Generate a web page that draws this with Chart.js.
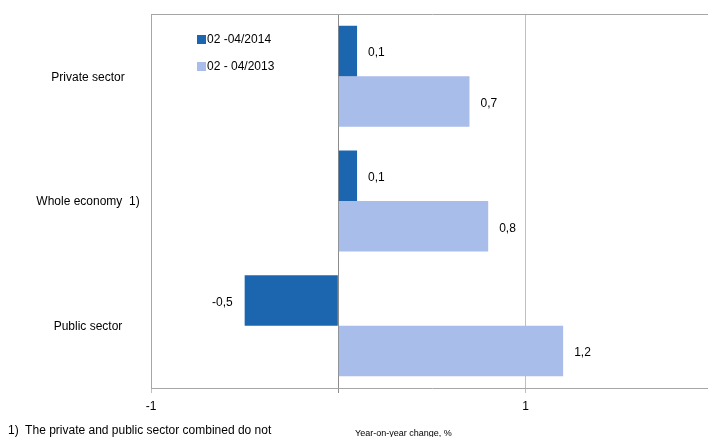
<!DOCTYPE html>
<html>
<head>
<meta charset="utf-8">
<script src="https://cdn.jsdelivr.net/npm/chart.js@4.4.0/dist/chart.umd.min.js"></script>
<style>
  html, body { margin: 0; padding: 0; background: #fff; overflow: hidden; }
  #wrap { position: relative; width: 708px; height: 437px; overflow: hidden; }
  #grafico { display: block; width: 740px; height: 437px; }
  .nota { position: absolute; font-family: "Liberation Sans", Arial, sans-serif; color: #000; white-space: nowrap; }
  #nota1 { left: 8px; top: 423px; font-size: 12px; }
  #nota2 { left: 355px; top: 428px; font-size: 9px; }
</style>
</head>
<body>
<div id="wrap">
  <canvas id="grafico" width="740" height="437"></canvas>
  <div class="nota" id="nota1">1)&nbsp; The private and public sector combined do not</div>
  <div class="nota" id="nota2">Year-on-year change, %</div>
</div>
<script>
const categorias = ["Private sector", "Whole economy  1)", "Public sector"];
const serie2014 = [0.1, 0.1, -0.5];
const serie2013 = [0.7, 0.8, 1.2];
const nomesSeries = ["02 -04/2014", "02 - 04/2013"];
const cores = ["#1C66B0", "#A8BDEA"];
const ticksEixo = [-1, 0, 1];
const ticksMostrados = [-1, 1];

const fonte = '"Liberation Sans", Arial, sans-serif';

function formatar(v) {
  return v.toFixed(1).replace(".", ",");
}

// rótulos das categorias, rótulos dos valores e legenda
const extras = {
  id: "extras",
  afterDatasetsDraw(chart) {
    const ctx = chart.ctx;
    ctx.save();
    ctx.font = "12px " + fonte;
    ctx.fillStyle = "#000";
    ctx.textBaseline = "middle";

    const y = chart.scales.y;
    ctx.textAlign = "center";
    categorias.forEach((c, i) => {
      ctx.fillText(c, 88, y.getPixelForValue(i) + 1);
    });

    chart.data.datasets.forEach((ds, d) => {
      chart.getDatasetMeta(d).data.forEach((bar, i) => {
        const v = ds.data[i];
        if (v >= 0) {
          ctx.textAlign = "left";
          ctx.fillText(formatar(v), bar.x + 11, bar.y + 2);
        } else {
          ctx.textAlign = "right";
          ctx.fillText(formatar(v), bar.x - 12, bar.y + 2);
        }
      });
    });

    ctx.textAlign = "left";
    nomesSeries.forEach((n, i) => {
      const ly = 40 + i * 27;
      ctx.fillStyle = cores[i];
      ctx.fillRect(197, ly - 5, 9, 9);
      ctx.fillStyle = "#000";
      ctx.fillText(n, 207, ly);
    });

    ctx.restore();
  }
};

new Chart(document.getElementById("grafico"), {
  type: "bar",
  data: {
    labels: categorias,
    datasets: [
      { label: nomesSeries[0], data: serie2014, backgroundColor: cores[0] },
      { label: nomesSeries[1], data: serie2013, backgroundColor: cores[1] }
    ]
  },
  options: {
    indexAxis: "y",
    responsive: false,
    animation: false,
    events: [],
    layout: { padding: { left: 0, top: 14, right: 27, bottom: 0 } },
    datasets: { bar: { categoryPercentage: 0.81, barPercentage: 1 } },
    plugins: {
      legend: { display: false },
      tooltip: { enabled: false }
    },
    scales: {
      x: {
        min: -1,
        max: 2,
        afterBuildTicks: s => { s.ticks = ticksEixo.map(v => ({ value: v })); },
        ticks: {
          color: "#000",
          font: { family: fonte, size: 12 },
          padding: 6,
          maxRotation: 0,
          callback: v => ticksMostrados.includes(v) ? String(v) : ""
        },
        grid: {
          color: c => c.tick && c.tick.value === 0 ? "#8c8c8c" : "#bfbfbf",
          tickLength: 5
        },
        border: { color: "#a6a6a6" },
        afterFit: s => { s.height = 49; }
      },
      xTopo: {
        position: "top",
        min: -1,
        max: 2,
        ticks: { display: false },
        grid: { display: false },
        border: { color: "#a6a6a6" },
        afterFit: s => { s.height = 0; }
      },
      y: {
        ticks: { display: false },
        grid: { display: false },
        border: { color: "#a6a6a6" },
        afterFit: s => { s.width = 151; }
      }
    }
  },
  plugins: [extras]
});
</script>
</body>
</html>
